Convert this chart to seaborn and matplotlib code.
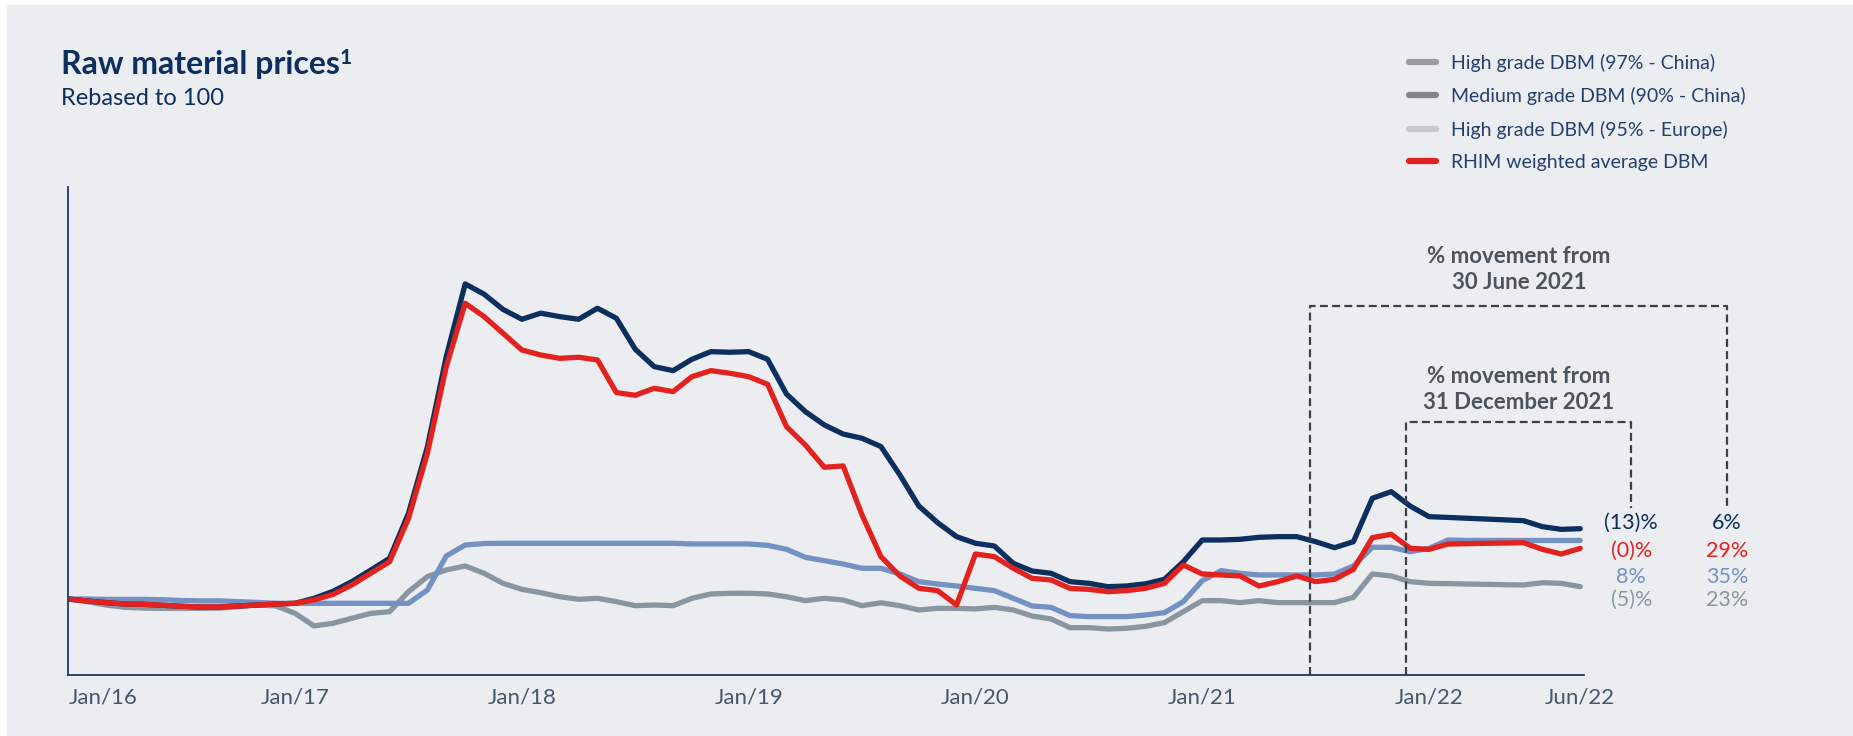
import pandas as pd
import seaborn as sns
import matplotlib.pyplot as plt
from matplotlib.lines import Line2D
from matplotlib.patches import Rectangle

# month index, 0 = Jan/16 (monthly points, rebased to 100)
months = list(range(81))

high_china = [100.0, 97.4, 95.2, 93.4, 93.0, 91.7, 90.4, 89.5, 89.5, 90.8,
              92.1, 93.4, 94.3, 100.9, 110.0, 122.8, 138.0, 153.5, 212.7, 300.0,
              419.0, 514.5, 501.0, 481.0, 468.0, 476.0, 471.5, 468.0, 482.5, 469.3,
              428.5, 405.7, 400.4, 415.4, 425.4, 424.6, 425.4, 415.4, 369.7, 346.5,
              329.0, 317.0, 311.4, 300.5, 263.2, 222.4, 200.4, 182.0, 173.3, 169.7,
              146.9, 136.8, 133.8, 122.8, 120.6, 116.2, 117.1, 120.0, 125.9, 149.1,
              177.6, 177.6, 178.5, 181.1, 182.0, 182.0, 175.4, 167.5, 175.4, 232.5,
              241.2, 222.3, 208.3, 207.3, 206.2, 205.2, 204.1, 203.0, 195.1, 191.6,
              192.5]

medium_china = [100.0, 96.5, 92.1, 89.0, 88.0, 87.7, 87.7, 87.7, 88.0, 90.0,
                92.1, 90.8, 81.1, 64.5, 68.0, 74.6, 81.0, 83.3, 109.6, 129.4,
                138.2, 143.4, 133.8, 120.6, 112.7, 108.3, 103.0, 99.6, 100.9, 96.5,
                91.2, 92.1, 91.2, 100.9, 106.6, 107.5, 107.5, 106.6, 103.0, 97.8,
                100.9, 98.7, 91.2, 95.0, 91.2, 85.6, 87.7, 87.7, 86.9, 89.0,
                85.6, 77.6, 73.7, 62.3, 62.3, 60.5, 61.4, 64.0, 68.9, 83.3,
                97.8, 97.8, 95.2, 97.8, 95.2, 95.2, 95.2, 95.2, 102.2, 132.9,
                130.3, 122.8, 120.6, 120.2, 119.7, 119.3, 118.8, 118.4, 121.4, 120.6,
                116.2]

high_europe = [100.0, 100.0, 99.5, 99.5, 99.5, 99.0, 98.0, 97.5, 97.5, 96.5,
               95.5, 94.3, 94.3, 94.3, 94.3, 94.3, 94.3, 94.3, 94.3, 111.8,
               156.6, 171.0, 173.0, 173.3, 173.3, 173.3, 173.3, 173.3, 173.3, 173.3,
               173.3, 173.3, 173.3, 172.4, 172.4, 172.4, 172.4, 170.6, 165.4, 154.8,
               150.4, 146.0, 140.4, 140.4, 132.9, 122.8, 119.7, 117.1, 114.0, 111.0,
               100.9, 90.8, 89.0, 78.1, 76.8, 76.8, 76.8, 79.0, 82.0, 96.5,
               124.1, 137.3, 133.8, 131.6, 131.6, 131.6, 131.6, 132.9, 143.4, 168.0,
               168.0, 162.2, 166.6, 177.6, 177.0, 177.0, 177.0, 177.0, 177.0, 177.0,
               177.0]

rhim_avg = [100.0, 97.4, 95.2, 93.4, 93.0, 91.7, 90.4, 89.5, 89.5, 90.8,
            92.1, 93.4, 94.3, 98.7, 106.0, 118.4, 133.8, 149.0, 206.0, 291.7,
            405.7, 489.0, 471.5, 449.6, 427.6, 421.0, 416.6, 418.0, 414.5, 371.5,
            368.0, 377.2, 372.8, 392.5, 400.4, 397.0, 392.5, 382.5, 326.8, 302.6,
            273.3, 275.0, 210.5, 155.7, 130.3, 114.1, 111.0, 92.1, 159.2, 155.7,
            140.4, 127.2, 125.0, 114.0, 112.7, 109.6, 111.0, 114.0, 120.6, 144.7,
            132.9, 131.6, 130.3, 117.1, 122.8, 130.3, 122.8, 125.9, 139.0, 180.7,
            185.1, 166.7, 165.3, 172.3, 172.8, 173.2, 173.6, 174.1, 165.3, 159.2,
            166.6]

tick_pos = [0, 12, 24, 36, 48, 60, 72, 80]
tick_labels = ["Jan/16", "Jan/17", "Jan/18", "Jan/19", "Jan/20", "Jan/21", "Jan/22", "Jun/22"]

legend_labels = ["High grade DBM (97% - China)", "Medium grade DBM (90% - China)",
                 "High grade DBM (95% - Europe)", "RHIM weighted average DBM"]
legend_colors = ["#9a9a9a", "#858585", "#c9c9c9", "#e3211e"]

move_dec21 = ["(13)%", "(0)%", "8%", "(5)%"]
move_jun21 = ["6%", "29%", "35%", "23%"]

df = pd.DataFrame({"month": months, "high_china": high_china, "medium_china": medium_china,
                   "high_europe": high_europe, "rhim_avg": rhim_avg})

NAVY = "#0b2f5f"
RED = "#e3211e"
LBLUE = "#7391c2"
GREY = "#8896a1"
BG = "#ecedf0"

sns.set_style("white")
plt.rcParams['font.family'] = ['Lato', 'DejaVu Sans']

W, H = 1853, 736
fig = plt.figure(figsize=(W / 100, H / 100), dpi=100)
fig.patch.set_facecolor("white")
fig.patches.append(Rectangle((7 / W, 0), 1 - 7 / W, 1 - 5 / H, transform=fig.transFigure,
                             facecolor=BG, edgecolor="none", zorder=-10))

ax = fig.add_axes([68.3 / W, 1 - 675 / H, (1584 - 68.3) / W, (675 - 187) / H])
ax.set_facecolor("none")

series = [("medium_china", GREY), ("high_europe", LBLUE), ("high_china", NAVY), ("rhim_avg", RED)]
for col, c in series:
    sns.lineplot(data=df, x="month", y=col, color=c, lw=3.8, ax=ax, legend=False)

ax.set_xlim(0, 80.2)
ax.set_ylim(0, 642)
ax.set_xlabel("")
ax.set_ylabel("")
ax.set_yticks([])
ax.set_xticks(tick_pos)
ax.set_xticklabels(tick_labels)
ax.tick_params(axis="x", length=0, pad=9, labelsize=16, labelcolor="#46566c")
ax.get_xticklabels()[0].set_horizontalalignment("left")
for s in ["top", "right"]:
    ax.spines[s].set_visible(False)
for s in ["left", "bottom"]:
    ax.spines[s].set_color("#1d3a68")
    ax.spines[s].set_linewidth(1.3)

# dashed brackets
dash = dict(color="#3b4048", lw=1.6, ls=(0, (3.6, 1.9)), clip_on=False, zorder=5)
ax.plot([65.7, 65.7, 87.75, 87.75], [0, 486, 486, 220], **dash)
ax.plot([70.8, 70.8, 82.7, 82.7], [0, 333, 333, 220], **dash)

ax.text(76.76, 534, "% movement from\n30 June 2021", ha="center", va="center",
        fontsize=16, fontweight="bold", color="#4b535d", linespacing=1.3)
ax.text(76.76, 376, "% movement from\n31 December 2021", ha="center", va="center",
        fontsize=16, fontweight="bold", color="#4b535d", linespacing=1.3)

row_y = [200, 163, 129, 98.7]
row_c = [NAVY, RED, LBLUE, GREY]
for lab, y, c in zip(move_dec21, row_y, row_c):
    ax.text(82.7, y, lab, ha="center", va="center", fontsize=15.5, color=c, clip_on=False)
for lab, y, c in zip(move_jun21, row_y, row_c):
    ax.text(87.76, y, lab, ha="center", va="center", fontsize=15.5, color=c, clip_on=False)

# title
title = fig.text(61 / W, 1 - 74 / H, "Raw material prices", fontsize=23, fontweight="bold",
                 color="#0b2f5f", va="baseline", ha="left")
ax.annotate("1", xy=(1, 1), xycoords=title, xytext=(-0.5, 1.5), textcoords="offset points",
            fontsize=15, fontweight="bold", color="#0b2f5f", va="top", ha="left")
fig.text(61 / W, 1 - 105 / H, "Rebased to 100", fontsize=17, color="#0b2f5f",
         va="baseline", ha="left")

handles = [Line2D([], [], color=c, lw=4.5, solid_capstyle="round") for c in legend_colors]
fig.legend(handles, legend_labels, loc="upper left", bbox_to_anchor=(1409 / W, 1 - 54 / H),
           frameon=False, fontsize=14, labelcolor="#23406f", handlelength=1.4,
           handletextpad=0.75, labelspacing=0.78, borderpad=0, borderaxespad=0)

fig.savefig("out.png", dpi=100, facecolor=fig.get_facecolor())
